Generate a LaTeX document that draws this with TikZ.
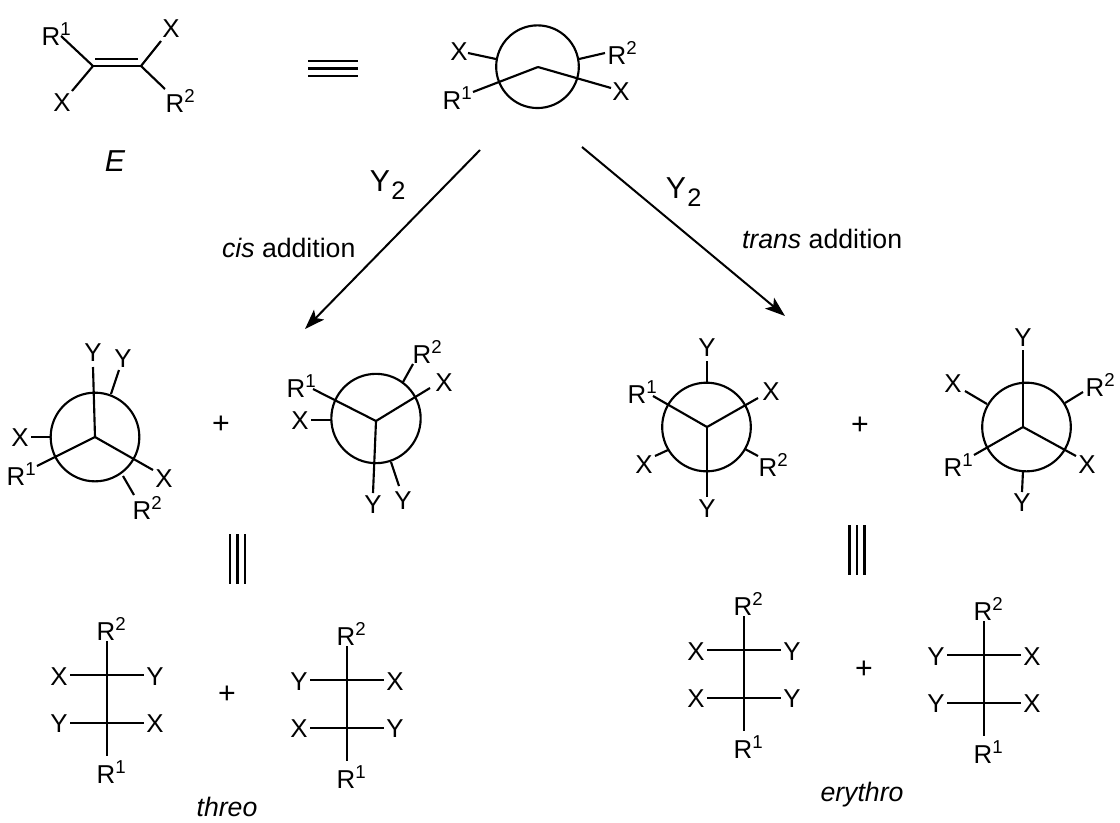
\documentclass[tikz,border=0pt]{standalone}
\usepackage{fontspec}
\setmainfont{Liberation Sans}
\usetikzlibrary{arrows.meta}
\newcommand{\Rsup}[1]{R\rlap{\raisebox{7pt}{\fontsize{14}{14}\selectfont #1}}}
\newcommand{\Ysub}{Y\rlap{\kern1pt\raisebox{-5.8pt}{\fontsize{19}{19}\selectfont 2}}}
\tikzset{
  x=0.75pt,y=-0.75pt,
  bond/.style={line width=1.6pt,line cap=butt},
  equiv/.style={line width=1.7pt},
  atomlabel/.style={inner sep=0pt,outer sep=0pt,anchor=center,font=\fontsize{19.4}{20}\selectfont},
  caption/.style={inner sep=0pt,outer sep=0pt,font=\fontsize{20}{22}\selectfont},
  bigtext/.style={inner sep=0pt,outer sep=0pt,font=\fontsize{22.7}{24}\selectfont},
  ring/.style={circle,draw,line width=1.6pt,inner sep=0pt,outer sep=0pt,minimum size=#1},
  rxn/.style={line width=1.5pt,-{Stealth[length=15pt,width=10.5pt,inset=3.5pt]}},
}
\newcommand{\fischer}[7]{%
  \begin{scope}[shift={(#2,#3)}]
    \node[atomlabel] (#1top) at (-1,-46) {\Rsup{2}};
    \node[atomlabel] (#1bot) at (-1,97) {\Rsup{1}};
    \node[atomlabel] (#1ul) at (-48,2) {#4};
    \node[atomlabel] (#1ur) at (48,2) {#5};
    \node[atomlabel] (#1ll) at (-48,49) {#6};
    \node[atomlabel] (#1lr) at (48,49) {#7};
    \coordinate (#1a) at (0,-34);
    \coordinate (#1b) at (0,81);
    \coordinate (#1c) at (-37,0);
    \coordinate (#1d) at (37,0);
    \coordinate (#1e) at (-37,48);
    \coordinate (#1f) at (37,48);
    \draw[bond] (#1a) -- (#1b);
    \draw[bond] (#1c) -- (#1d);
    \draw[bond] (#1e) -- (#1f);
  \end{scope}}
\begin{document}
\begin{tikzpicture}
\useasboundingbox (0,0) rectangle (1120,822);

% alkene
\coordinate (c1) at (93,66);
\coordinate (c2) at (141,66);
\coordinate (d1) at (95,59);
\coordinate (d2) at (138,59);
\node[atomlabel] (aR1) at (51,34) {\Rsup{1}};
\node[atomlabel] (aX1) at (171,29) {X};
\node[atomlabel] (aX2) at (62,103) {X};
\node[atomlabel] (aR2) at (175,101) {\Rsup{2}};
\coordinate (ae1) at (61,36);
\coordinate (ae2) at (161,41);
\coordinate (ae3) at (72,91);
\coordinate (ae4) at (165,89);
\draw[bond] (c1) -- (c2);
\draw[bond] (d1) -- (d2);
\draw[bond] (c1) -- (ae1);
\draw[bond] (c2) -- (ae2);
\draw[bond] (c1) -- (ae3);
\draw[bond] (c2) -- (ae4);
\node[bigtext,font=\fontsize{22.7}{24}\selectfont\itshape] (eE) at (115,161) {E};

% equivalence, horizontal
\coordinate (q1a) at (308,61); \coordinate (q1b) at (358,61);
\coordinate (q2a) at (308,68.5); \coordinate (q2b) at (358,68.5);
\coordinate (q3a) at (308,76); \coordinate (q3b) at (358,76);
\draw[equiv] (q1a) -- (q1b);
\draw[equiv] (q2a) -- (q2b);
\draw[equiv] (q3a) -- (q3b);

% top Newman
\node[ring=62pt] (n0) at (537.5,66.7) {};
\coordinate (n0c) at (538,67);
\node[atomlabel] (n0X1) at (459,52) {X};
\node[atomlabel] (n0R1) at (452,98) {\Rsup{1}};
\node[atomlabel] (n0R2) at (617,53) {\Rsup{2}};
\node[atomlabel] (n0X2) at (621,92) {X};
\coordinate (n0s1) at (496,59); \coordinate (n0e1) at (468,53);
\coordinate (n0s2) at (579,59); \coordinate (n0e2) at (605,53);
\coordinate (n0e3) at (473,92);
\coordinate (n0e4) at (611,88);
\draw[bond] (n0s1) -- (n0e1);
\draw[bond] (n0s2) -- (n0e2);
\draw[bond] (n0c) -- (n0e3);
\draw[bond] (n0c) -- (n0e4);

% reaction arrows
\coordinate (ar1a) at (480,150); \coordinate (ar1b) at (305,329);
\coordinate (ar2a) at (582,147); \coordinate (ar2b) at (785,316);
\draw[rxn] (ar1a) -- (ar1b);
\draw[rxn] (ar2a) -- (ar2b);
\node[bigtext] (y1) at (380,185) {\Ysub};
\node[bigtext] (y2) at (676,192) {\Ysub};
\node[caption,anchor=base west] (cisl) at (222,257) {\textit{cis} addition};
\node[caption,anchor=base west] (transl) at (742,248) {\textit{trans} addition};

% Newman 1
\node[ring=66.5pt] (n1) at (95,437) {};
\coordinate (n1c) at (95,437);
\node[atomlabel] (n1Y1) at (93,353) {Y};
\node[atomlabel] (n1Y2) at (123,359) {Y};
\node[atomlabel] (n1X1) at (20,438) {X};
\node[atomlabel] (n1R1) at (16,474) {\Rsup{1}};
\node[atomlabel] (n1X2) at (164,479) {X};
\node[atomlabel] (n1R2) at (142,508) {\Rsup{2}};
\coordinate (n1e1) at (93,367);
\coordinate (n1s2) at (111,394); \coordinate (n1e2) at (119,370);
\coordinate (n1s3) at (50,437); \coordinate (n1e3) at (31,437);
\coordinate (n1e4) at (37,466);
\coordinate (n1e5) at (153,470);
\coordinate (n1s6) at (123,476); \coordinate (n1e6) at (134,495);
\draw[bond] (n1c) -- (n1e1);
\draw[bond] (n1s2) -- (n1e2);
\draw[bond] (n1s3) -- (n1e3);
\draw[bond] (n1c) -- (n1e4);
\draw[bond] (n1c) -- (n1e5);
\draw[bond] (n1s6) -- (n1e6);

\node[bigtext] (p1) at (221,425) {+};

% Newman 2
\node[ring=67pt] (n2) at (376,418.5) {};
\coordinate (n2c) at (376,421);
\node[atomlabel] (n2R1) at (296,386) {\Rsup{1}};
\node[atomlabel] (n2R2) at (422,352) {\Rsup{2}};
\node[atomlabel] (n2X2) at (444,383) {X};
\node[atomlabel] (n2X1) at (300,421) {X};
\node[atomlabel] (n2Y1) at (373,505) {Y};
\node[atomlabel] (n2Y2) at (403,501) {Y};
\coordinate (n2e1) at (313,389);
\coordinate (n2s2) at (403,382); \coordinate (n2e2) at (413,364);
\coordinate (n2e3) at (430,388);
\coordinate (n2s4) at (331,420); \coordinate (n2e4) at (311,420);
\coordinate (n2e5) at (373,493);
\coordinate (n2s6) at (391,462); \coordinate (n2e6) at (399,486);
\draw[bond] (n2c) -- (n2e1);
\draw[bond] (n2s2) -- (n2e2);
\draw[bond] (n2c) -- (n2e3);
\draw[bond] (n2s4) -- (n2e4);
\draw[bond] (n2c) -- (n2e5);
\draw[bond] (n2s6) -- (n2e6);

% Newman 3
\node[ring=66.5pt] (n3) at (706.5,427) {};
\coordinate (n3c) at (707,427);
\node[atomlabel] (n3Y1) at (707,348) {Y};
\node[atomlabel] (n3R1) at (637,392) {\Rsup{1}};
\node[atomlabel] (n3X1) at (771,392) {X};
\node[atomlabel] (n3X2) at (644,465) {X};
\node[atomlabel] (n3R2) at (768,465) {\Rsup{2}};
\node[atomlabel] (n3Y2) at (707,509) {Y};
\coordinate (n3s1) at (707,382); \coordinate (n3e1) at (707,361);
\coordinate (n3e2) at (653,396);
\coordinate (n3e3) at (758,398);
\coordinate (n3s4) at (668,450); \coordinate (n3e4) at (655,456);
\coordinate (n3s5) at (745,449); \coordinate (n3e5) at (758,456);
\coordinate (n3e6) at (707,497);
\draw[bond] (n3s1) -- (n3e1);
\draw[bond] (n3c) -- (n3e2);
\draw[bond] (n3c) -- (n3e3);
\draw[bond] (n3s4) -- (n3e4);
\draw[bond] (n3s5) -- (n3e5);
\draw[bond] (n3c) -- (n3e6);

\node[bigtext] (p2) at (860,426) {+};

% Newman 4
\node[ring=66.5pt] (n4) at (1026.5,427) {};
\coordinate (n4c) at (1023,427);
\node[atomlabel] (n4Y1) at (1023,338) {Y};
\node[atomlabel] (n4X1) at (953,384) {X};
\node[atomlabel] (n4R2) at (1095,385) {\Rsup{2}};
\node[atomlabel] (n4R1) at (953,465) {\Rsup{1}};
\node[atomlabel] (n4X2) at (1087,465) {X};
\node[atomlabel] (n4Y2) at (1022,503) {Y};
\coordinate (n4e1) at (1023,350);
\coordinate (n4s2) at (987,404); \coordinate (n4e2) at (965,391);
\coordinate (n4s3) at (1065,403); \coordinate (n4e3) at (1083,392);
\coordinate (n4e4) at (974,455);
\coordinate (n4e5) at (1076,456);
\coordinate (n4s6) at (1023,471); \coordinate (n4e6) at (1022,492);
\draw[bond] (n4c) -- (n4e1);
\draw[bond] (n4s2) -- (n4e2);
\draw[bond] (n4s3) -- (n4e3);
\draw[bond] (n4c) -- (n4e4);
\draw[bond] (n4c) -- (n4e5);
\draw[bond] (n4s6) -- (n4e6);

% equivalence, vertical
\coordinate (v1a) at (230,534); \coordinate (v1b) at (230,584);
\coordinate (v2a) at (237.5,534); \coordinate (v2b) at (237.5,584);
\coordinate (v3a) at (245,534); \coordinate (v3b) at (245,584);
\draw[equiv] (v1a) -- (v1b);
\draw[equiv] (v2a) -- (v2b);
\draw[equiv] (v3a) -- (v3b);
\coordinate (w1a) at (849.5,525); \coordinate (w1b) at (849.5,575);
\coordinate (w2a) at (857,525); \coordinate (w2b) at (857,575);
\coordinate (w3a) at (864.5,525); \coordinate (w3b) at (864.5,575);
\draw[equiv] (w1a) -- (w1b);
\draw[equiv] (w2a) -- (w2b);
\draw[equiv] (w3a) -- (w3b);

% Fischer projections
\fischer{fa}{107}{675}{X}{Y}{Y}{X}
\fischer{fb}{347}{680}{Y}{X}{X}{Y}
\fischer{fc}{744}{650}{X}{Y}{X}{Y}
\fischer{fd}{984}{655}{Y}{X}{Y}{X}
\node[bigtext] (p3) at (227,695) {+};
\node[bigtext] (p4) at (864,670) {+};
\node[caption,anchor=base] (threo) at (227,816) {\textit{threo}};
\node[caption,anchor=base] (erythro) at (862,801) {\textit{erythro}};
\end{tikzpicture}
\end{document}
